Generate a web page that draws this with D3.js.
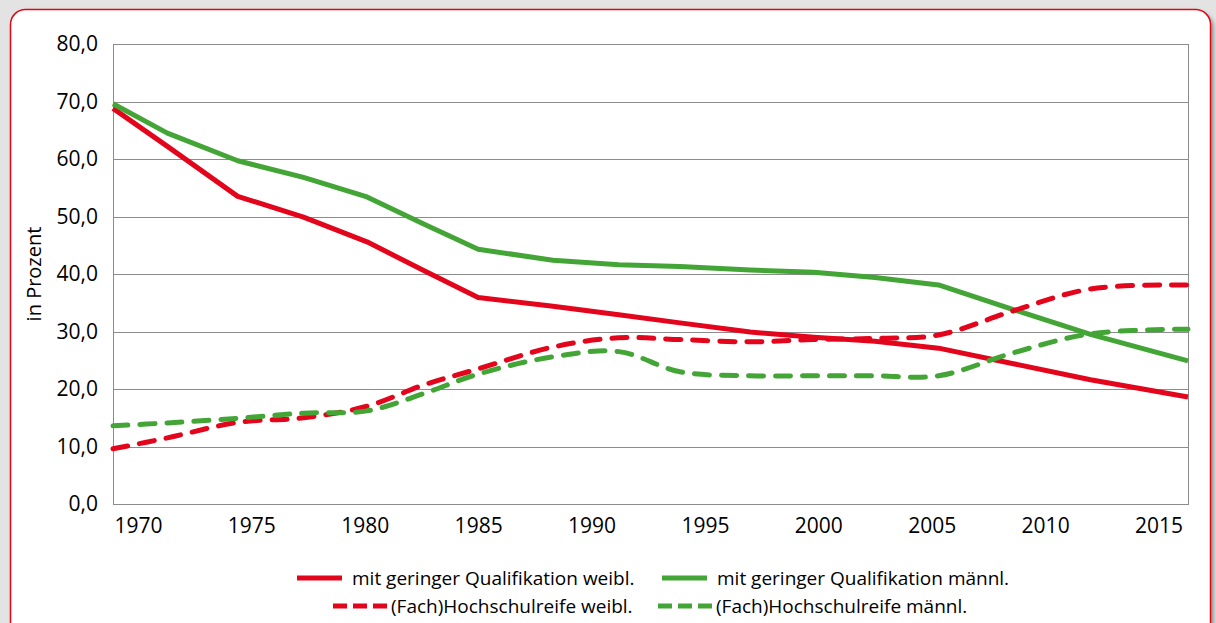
<!DOCTYPE html>
<html>
<head>
<meta charset="utf-8">
<script src="https://cdn.jsdelivr.net/npm/d3@7"></script>
<style>
  html, body { margin: 0; padding: 0; background: #e3e3e3; }
  svg { display: block; font-family: "Open Sans", sans-serif; }
</style>
</head>
<body>
<svg id="chart" width="1216" height="623"></svg>
<script>
// survey years (x positions)
const years = [1968.9, 1971.3, 1974.4, 1977.3, 1980.1, 1982.6, 1985.0, 1988.3, 1991.2,
  1993.9, 1997.0, 1999.8, 2002.5, 2005.3, 2008.6, 2012.0, 2016.3]

const geringWeibl = [68.8, 62.2, 53.5, 49.9, 45.6, 40.6, 35.9, 34.4, 32.9,
  31.5, 29.9, 29.0, 28.3, 27.1, 24.4, 21.6, 18.6]
const geringMaennl = [69.6, 64.5, 59.7, 56.8, 53.4, 48.7, 44.3, 42.4, 41.6,
  41.3, 40.7, 40.3, 39.4, 38.1, 33.8, 29.5, 24.9]
const fachWeibl = [9.6, 11.5, 14.2, 15.0, 17.0, 20.7, 23.5, 27.3, 28.9,
  28.6, 28.2, 28.6, 28.8, 29.4, 33.6, 37.4, 38.1]
const fachMaennl = [13.6, 14.1, 14.9, 15.8, 16.2, 19.2, 22.6, 25.6, 26.5,
  23.0, 22.3, 22.3, 22.3, 22.3, 26.3, 29.6, 30.4]

const xTicks = [1970, 1975, 1980, 1985, 1990, 1995, 2000, 2005, 2010, 2015]
const yTicks = [0, 10, 20, 30, 40, 50, 60, 70, 80]

const RED = '#e3051b'
const GREEN = '#43a536'

const series = [
  {name: 'mit geringer Qualifikation weibl.', values: geringWeibl, color: RED, dashed: false},
  {name: 'mit geringer Qualifikation männl.', values: geringMaennl, color: GREEN, dashed: false},
  {name: '(Fach)Hochschulreife weibl.', values: fachWeibl, color: RED, dashed: true},
  {name: '(Fach)Hochschulreife männl.', values: fachMaennl, color: GREEN, dashed: true}
]

const W = 1216, H = 623
const MARGIN = {top: 44, right: 28, bottom: 119, left: 113}
const boundedWidth = W - MARGIN.left - MARGIN.right
const boundedHeight = H - MARGIN.top - MARGIN.bottom

const $svg = d3.select('#chart')

// panel background, shadow and red rounded frame
const defs = $svg.append('defs')
const blur = defs.append('filter').attr('id', 'shadow')
  .attr('x', '-5%').attr('y', '-5%').attr('width', '110%').attr('height', '110%')
blur.append('feGaussianBlur').attr('stdDeviation', 2)

$svg.append('rect')
  .attr('width', W).attr('height', H).attr('fill', '#e3e3e3')
$svg.append('rect')
  .attr('x', 13.5).attr('y', 12.5).attr('width', 1200).attr('height', 700)
  .attr('rx', 15).attr('fill', '#8a8a8a').attr('filter', 'url(#shadow)')
$svg.append('rect')
  .attr('x', 10.5).attr('y', 9.5).attr('width', 1200).attr('height', 700)
  .attr('rx', 15).attr('fill', '#fff')
  .attr('stroke', '#e30613').attr('stroke-width', 1.5)

const $gVis = $svg.append('g')
  .attr('transform', `translate(${MARGIN.left}, ${MARGIN.top})`)

const xScale = d3.scaleLinear()
  .domain(d3.extent(years))
  .range([0, boundedWidth])
const yScale = d3.scaleLinear()
  .domain([0, 80])
  .range([boundedHeight, 0])

const de = d3.formatLocale({decimal: ',', thousands: '.', grouping: [3], currency: ['', ' €']})
const fmt = de.format('.1f')

// gridlines + plot border
$gVis.append('g')
  .attr('class', 'grid')
  .selectAll('line')
  .data(yTicks)
  .join('line')
    .attr('x1', 0).attr('x2', boundedWidth)
    .attr('y1', d => Math.round(yScale(d)) + 0.5)
    .attr('y2', d => Math.round(yScale(d)) + 0.5)
    .attr('stroke', '#8c8c8c').attr('stroke-width', 1)
$gVis.append('rect')
  .attr('x', 0.5).attr('y', 0.5)
  .attr('width', boundedWidth).attr('height', boundedHeight)
  .attr('fill', 'none').attr('stroke', '#8c8c8c').attr('stroke-width', 1)

// axes (labels only)
const yAxis = d3.axisLeft(yScale).tickValues(yTicks).tickFormat(fmt).tickSize(0).tickPadding(15)
const $yAxis = $gVis.append('g').call(yAxis)
$yAxis.select('.domain').remove()
$yAxis.selectAll('text')
  .attr('font-family', '"Open Sans", sans-serif')
  .attr('font-size', 21).attr('fill', '#000')

const xAxis = d3.axisBottom(xScale).tickValues(xTicks).tickFormat(d3.format('d')).tickSize(0).tickPadding(14)
const $xAxis = $gVis.append('g')
  .attr('transform', `translate(0, ${boundedHeight})`)
  .call(xAxis)
$xAxis.select('.domain').remove()
$xAxis.selectAll('text')
  .attr('font-family', '"Open Sans", sans-serif')
  .attr('font-size', 21).attr('fill', '#000')

$svg.append('text')
  .attr('transform', `translate(41, ${MARGIN.top + boundedHeight / 2}) rotate(-90)`)
  .attr('text-anchor', 'middle')
  .attr('font-size', 20)
  .attr('fill', '#000')
  .text('in Prozent')

// lines
const lineStraight = d3.line()
  .x((d, i) => xScale(years[i]))
  .y(d => yScale(d))
const lineSmooth = d3.line()
  .x((d, i) => xScale(years[i]))
  .y(d => yScale(d))
  .curve(d3.curveCatmullRom.alpha(0.5))

$gVis.append('g')
  .selectAll('path')
  .data(series)
  .join('path')
    .attr('d', d => d.dashed ? lineSmooth(d.values) : lineStraight(d.values))
    .attr('fill', 'none')
    .attr('stroke', d => d.color)
    .attr('stroke-width', 5)
    .attr('stroke-linejoin', 'round')
    .attr('stroke-linecap', d => d.dashed ? 'round' : 'butt')
    .attr('stroke-dasharray', d => d.dashed ? '15,12' : null)

// legend
const legendItems = [
  {s: series[0], x: 297, y: 578, len: 45},
  {s: series[1], x: 662, y: 578, len: 45},
  {s: series[2], x: 333, y: 606, len: 54},
  {s: series[3], x: 658, y: 606, len: 54}
]
const $legend = $svg.append('g').attr('class', 'legend')
const $items = $legend.selectAll('g')
  .data(legendItems)
  .join('g')
    .attr('transform', d => `translate(${d.x}, ${d.y})`)
$items.append('line')
  .attr('x1', 0)
  .attr('x2', d => d.len)
  .attr('y1', 0).attr('y2', 0)
  .attr('stroke', d => d.s.color)
  .attr('stroke-width', 5)
  .attr('stroke-dasharray', d => d.s.dashed ? '14,6' : null)
$items.append('text')
  .attr('x', d => d.len + (d.s.dashed ? 4 : 10))
  .attr('y', 0)
  .attr('dy', '0.35em')
  .attr('font-size', 19)
  .attr('fill', '#000')
  .text(d => d.s.name)
</script>
</body>
</html>
